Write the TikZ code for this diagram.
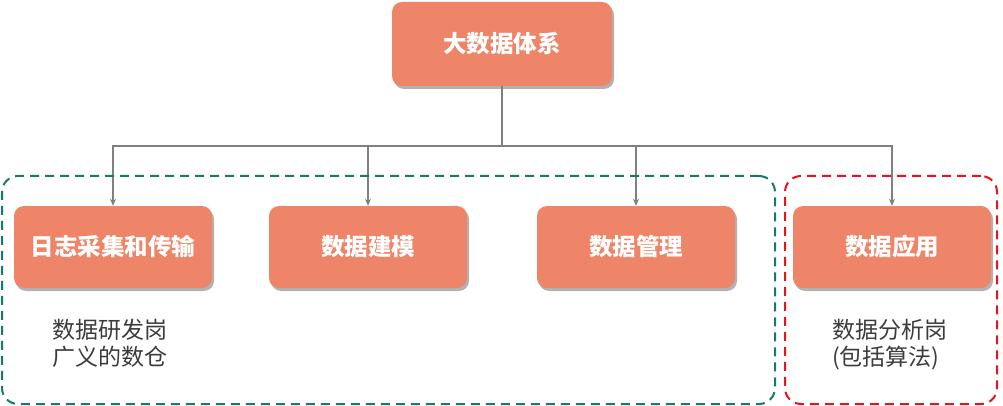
\documentclass[tikz,border=0pt]{standalone}
\usepackage{fontspec}
\newfontfamily\cjk{Noto Sans CJK SC}
\usetikzlibrary{shadows,arrows.meta}
\definecolor{boxfill}{RGB}{239,133,104}
\definecolor{linegray}{RGB}{128,128,128}
\definecolor{dgreen}{RGB}{22,122,104}
\definecolor{dred}{RGB}{232,20,28}
\definecolor{txtgray}{RGB}{60,60,60}
\begin{document}
\begin{tikzpicture}[x=1pt,y=-1pt,
  box/.style={rectangle, rounded corners=10pt, fill=boxfill, draw=none,
    minimum width=198pt, minimum height=82pt, text=white,
    font=\cjk\bfseries\fontsize{23.5}{28}\selectfont,
    drop shadow={shadow xshift=2pt, shadow yshift=-3pt, opacity=0.3, fill=black}},
  conn/.style={draw=linegray, line width=2pt},
  arr/.style={conn, -{Stealth[length=7pt,width=6pt]}},
  grp/.style={dashed, dash pattern=on 9pt off 6pt, line width=2pt, rounded corners=16pt},
  lbl/.style={text=txtgray, font=\cjk\fontsize{23}{27}\selectfont, align=left, anchor=north west, inner sep=0pt}
]
\useasboundingbox (0,0) rectangle (1003,406);
\node[box, minimum width=220pt, minimum height=84pt] (top) at (502,44) {大数据体系};
\node[box] (b1) at (113,247) {日志采集和传输};
\node[box] (b2) at (368,247) {数据建模};
\node[box] (b3) at (636,247) {数据管理};
\node[box] (b4) at (892,247) {数据应用};
\coordinate (trunk) at (502,146);
\draw[conn, line width=2.6pt] (top.south) -- (trunk);
\draw[arr] (trunk) -| (b1.north);
\draw[arr] (trunk) -| (b2.north);
\draw[arr] (trunk) -| (b3.north);
\draw[arr] (trunk) -| (b4.north);
\node[draw=dgreen, grp, minimum width=773pt, minimum height=228pt, inner sep=0pt] (g1) at (388.5,290) {};
\node[draw=dred, grp, minimum width=212pt, minimum height=228pt, inner sep=0pt] (g2) at (891,290) {};
\node[lbl] (l1) at (52,319) {数据研发岗\\广义的数仓};
\node[lbl] (l2) at (832,319) {数据分析岗\\(包括算法)};
\end{tikzpicture}
\end{document}
